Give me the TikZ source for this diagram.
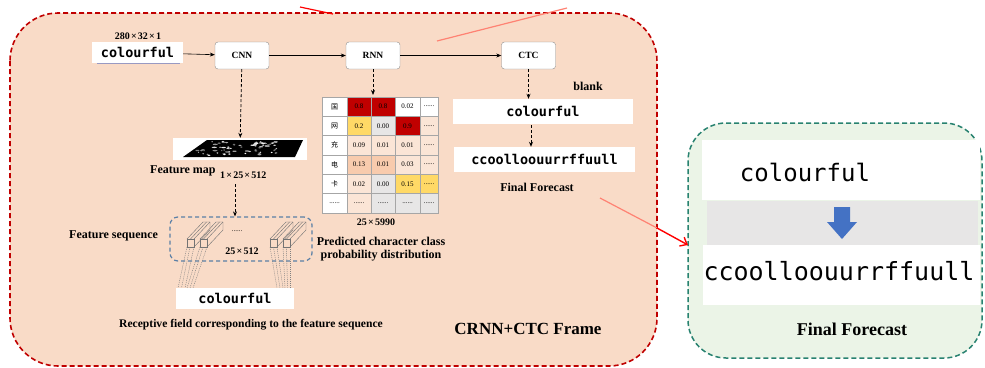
\documentclass[tikz,border=0pt]{standalone}
\usepackage{fontspec}
\setmainfont{Liberation Serif}
\newfontfamily\monofont{DejaVu Sans Mono}
\newfontfamily\cjk{Noto Sans CJK SC}
\usetikzlibrary{arrows.meta}

\definecolor{peachbg}{RGB}{249,219,199}
\definecolor{framered}{RGB}{192,0,0}
\definecolor{greenbg}{RGB}{235,244,231}
\definecolor{greenline}{RGB}{40,130,112}
\definecolor{seqblue}{RGB}{90,127,166}
\definecolor{cred}{RGB}{192,0,0}
\definecolor{cyel}{RGB}{255,217,102}
\definecolor{cgray}{RGB}{231,230,230}
\definecolor{clp}{RGB}{251,229,214}
\definecolor{cpk}{RGB}{248,203,173}
\definecolor{lightred}{RGB}{255,130,115}
\definecolor{arrowblue}{RGB}{68,114,196}

\newcommand\sixdots{......}
\newcommand\tm{\hspace{0.12em}×\hspace{0.12em}}

\tikzset{
  lbl/.style={font=\bfseries\fontsize{12}{13}\selectfont, inner sep=0pt},
  dimlbl/.style={font=\bfseries\fontsize{10}{11}\selectfont, inner sep=0pt},
  stage/.style={draw=black!45, fill=white, rounded corners=3pt, minimum width=54pt,
    minimum height=27pt, font=\bfseries\fontsize{9.5}{10}\selectfont, inner sep=0pt},
  wordbox/.style={fill=white, inner sep=0pt, font=\monofont\bfseries\fontsize{13.5}{15}\selectfont},
  flow/.style={-{Stealth[length=5pt,width=4pt]}, line width=0.6pt},
  dflow/.style={-{Stealth[length=5pt,width=4pt]}, line width=0.8pt, dash pattern=on 3pt off 2pt},
  cell/.style={draw=black!35, line width=0.4pt, inner sep=0pt,
    font=\fontsize{7}{8}\selectfont},
  bar/.style={draw=black!55, line width=0.4pt},
  rfield/.style={draw=black!50, line width=0.45pt, dash pattern=on 1pt off 1pt},
}

\begin{document}
\begin{tikzpicture}[x=1pt,y=-1pt]
\useasboundingbox (0,0) rectangle (985,367);

% ---------- main CRNN+CTC frame ----------
\draw[framered, fill=peachbg, line width=1.6pt, dash pattern=on 5pt off 3pt,
  rounded corners=48pt] (10,13) rectangle (657,366);

% stray red strokes along the top edge
\coordinate (s1) at (437,41);
\coordinate (s2) at (567,8);
\coordinate (s3) at (300,7);
\coordinate (s4) at (333,14);
\draw[lightred, line width=1.2pt] (s1) -- (s2);
\draw[red, line width=1.2pt] (s3) -- (s4);

% ---------- top row ----------
\node[dimlbl] (dim) at (138,36) {280\tm32\tm1};
\node[wordbox, minimum width=91pt, minimum height=21pt] (inp) at (137.5,52.5) {colourful};
\draw[black!60!blue!40, line width=1pt] ([xshift=5pt]inp.south west) -- ([xshift=-3pt]inp.south east);
\node[stage] (cnn) at (242,55.5) {CNN};
\node[stage] (rnn) at (373,55.5) {RNN};
\node[stage] (ctc) at (528.5,55.5) {CTC};
\draw[flow] (inp) -- (cnn);
\draw[flow] (cnn) -- (rnn);
\draw[flow] (rnn) -- (ctc);

% ---------- CNN branch: feature map ----------
\node[fill=white, minimum width=134pt, minimum height=22pt, inner sep=0pt] (fmap) at (240,149) {};
\fill[black] (183,157) -- (207,140) -- (303,140) -- (295,157) -- cycle;
\pgfmathsetseed{7}
\foreach \k in {1,...,70} {
  \pgfmathsetmacro{\py}{141.5+rnd*14}
  \pgfmathsetmacro{\px}{183+(157-\py)*24/17+4+rnd*(96-(157-\py)*16/17-8)}
  \pgfmathsetmacro{\rx}{0.6+rnd*2.2}
  \pgfmathsetmacro{\gv}{40+rnd*60}
  \fill[white!\gv!black] (\px,\py) ellipse (\rx pt and 0.7pt);
}
\draw[dflow] (cnn) -- (fmap);
\node[lbl, anchor=west] (fmaplbl) at (150,171) {Feature map};
\node[dimlbl, anchor=west] (fmapdim) at (220,175) {1\tm25\tm512};

% ---------- feature sequence ----------
\node[draw=seqblue, line width=1.2pt, dash pattern=on 4pt off 3pt, rounded corners=8pt,
  minimum width=142pt, minimum height=44pt, inner sep=0pt] (seq) at (241,239) {};
\coordinate (seqin) at (235,184);
\draw[dflow] (seqin) -- (seqin |- seq.north);
\node[lbl, anchor=west] (seqlbl) at (69,236) {Feature sequence};
\node[font=\fontsize{7}{8}\selectfont, inner sep=0pt] (seqdots) at (237,231) {\sixdots};
\node[dimlbl] (seqdim) at (242,251) {25\tm512};

% slanted feature columns
\foreach \bx in {187,200,270,283} {
  \draw[bar] (\bx,239) rectangle (\bx+7,247);
  \draw[bar] (\bx,239) -- (\bx+16,222) -- (\bx+23,222) -- (\bx+23,230) -- (\bx+7,247);
  \draw[bar] (\bx+7,239) -- (\bx+23,222);
  \draw[bar] (\bx+3.5,239) -- (\bx+19.5,222);
}

% receptive field
\node[wordbox, minimum width=118pt, minimum height=21pt] (rf) at (235,298.5) {colourful};
\foreach \ta/\tb in {187/178, 190/181.5, 194/185, 200/187, 203/190, 207/193,
                     270/277, 273.5/280, 277/283, 283/285, 286.5/287.5, 290/290}
  \draw[rfield] (\ta,247) -- (\tb,288);
\node[lbl] (rflbl) at (251,325) {\fontsize{11.6}{13}\selectfont Receptive field corresponding to the feature sequence};

% ---------- RNN branch: probability table ----------
\def\cx{{322,347,371,395,420,438}}
\foreach \r/\row in {
  1/{white/\cjk 国,cred/0.8,cred/0.8,white/0.02,white/\sixdots},
  2/{white/\cjk 网,cyel/0.2,cgray/0.00,cred/0.9,clp/\sixdots},
  3/{white/\cjk 充,clp/0.09,clp/0.01,clp/0.01,clp/\sixdots},
  4/{white/\cjk 电,cpk/0.13,cpk/0.01,clp/0.03,clp/\sixdots},
  5/{white/\cjk 卡,clp/0.02,cgray/0.00,cyel/0.15,cyel/\sixdots},
  6/{white/\sixdots,clp/\sixdots,cgray/\sixdots,cgray/\sixdots,cgray/\sixdots}} {
  \foreach \col/\txt [count=\c from 0] in \row {
    \pgfmathsetmacro{\xa}{\cx[\c]}
    \pgfmathsetmacro{\xb}{\cx[\c+1]}
    \pgfmathsetmacro{\ya}{97+(\r-1)*19.33}
    \pgfmathsetmacro{\yb}{97+\r*19.33}
    \node[cell, fill=\col, minimum width={\xb-\xa}, minimum height=19.33pt]
      (t\r-\c) at ({(\xa+\xb)/2},{(\ya+\yb)/2}) {\txt};
  }
}
\coordinate (tabin) at (373,95);
\draw[dflow] (rnn) -- (tabin);
\node[dimlbl] (tabdim) at (376,222) {25\tm5990};
\node[lbl, align=center] (tablbl) at (381,249) {Predicted character class\\probability distribution};

% ---------- CTC branch ----------
\node[lbl] (blank) at (588,86) {blank};
\node[wordbox, minimum width=180pt, minimum height=25pt] (ctc1) at (543,111.5) {colourful};
\node[wordbox, minimum width=181pt, minimum height=25pt] (ctc2) at (544.5,159.5) {ccoolloouurrffuull};
\draw[dflow] (ctc) -- (ctc1.north -| ctc);
\coordinate (ctcmid) at (531,125);
\draw[dflow] (ctcmid) -- (ctcmid |- ctc2.north);
\node[lbl] (ffl) at (537,187) {Final Forecast};

\node[font=\bfseries\fontsize{17}{20}\selectfont, inner sep=0pt] (frame) at (528,329) {CRNN+CTC Frame};

% ---------- final forecast panel ----------
\draw[greenline, fill=greenbg, line width=1.5pt, dash pattern=on 5pt off 3pt,
  rounded corners=38pt] (688,123) rectangle (982,358);
\node[fill=white, minimum width=278pt, minimum height=60pt, inner sep=0pt] (g1) at (841,170) {};
\node[fill=cgray, minimum width=271pt, minimum height=44pt, inner sep=0pt] (g2) at (842.5,223) {};
\node[fill=white, minimum width=277pt, minimum height=60pt, inner sep=0pt] (g3) at (841,275) {};
\node[font=\monofont\fontsize{24}{28}\selectfont, inner sep=0pt] (gw1) at (805,172) {colourful};
\node[font=\monofont\fontsize{25}{28}\selectfont, inner sep=0pt] (gw2) at (839,271) {ccoolloouurrffuull};
\fill[arrowblue] (834,207) -- (850,207) -- (850,222) -- (857,222) -- (842,239) -- (827,222) -- (834,222) -- cycle;
\node[font=\bfseries\fontsize{18}{20}\selectfont, inner sep=0pt] (gfl) at (852,329) {Final Forecast};

% link from the CTC output to the panel
\coordinate (fa) at (600,198);
\coordinate (fb) at (657,228);
\coordinate (fc) at (688,245);
\draw[lightred, line width=1.2pt] (fa) -- (fb);
\draw[red, line width=1.4pt, -{Straight Barb[length=6pt,width=10pt]}] (fb) -- (fc);

\end{tikzpicture}
\end{document}
